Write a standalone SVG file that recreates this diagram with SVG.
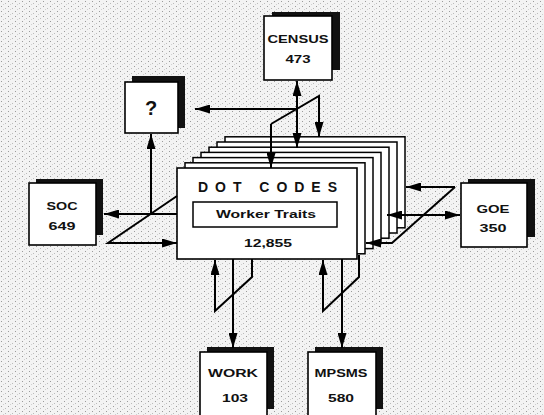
<svg xmlns="http://www.w3.org/2000/svg" width="544" height="415" viewBox="0 0 544 415">
  <defs>
    <pattern id="stip" width="7" height="5" patternUnits="userSpaceOnUse">
      <rect width="7" height="5" fill="#f3f3f3"/>
      <rect x="1" y="1" width="1" height="1" fill="#9a9a9a"/>
      <rect x="5" y="3" width="1" height="1" fill="#bbbbbb"/>
      <rect x="3" y="4" width="1" height="1" fill="#d0d0d0"/>
    </pattern>
    <marker id="ah" viewBox="0 0 15 9" refX="15" refY="4.5" markerWidth="15" markerHeight="9" markerUnits="userSpaceOnUse" orient="auto-start-reverse">
      <path d="M0,0 L15,4.5 L0,9 Z" fill="#000"/>
    </marker>
    <style>
      .shadow { fill: #111; }
      .front { fill: #fff; stroke: #000; stroke-width: 1.6; }
      .page { fill: #fff; stroke: #000; stroke-width: 1.5; }
      .lbl { font-family: "Liberation Sans", Arial, sans-serif; font-weight: bold; font-size: 11px; fill: #111; text-anchor: middle; }
      .conn { fill: none; stroke: #000; stroke-width: 2; stroke-linejoin: miter; }
    </style>
  </defs>

  <rect width="544" height="415" fill="url(#stip)"/>

  <g id="census">
    <rect class="shadow" x="272" y="12" width="68" height="58"/>
    <rect class="front" x="264" y="16" width="68" height="64"/>
    <text class="lbl" x="298" y="43" textLength="61" lengthAdjust="spacingAndGlyphs">CENSUS</text>
    <text class="lbl" x="298" y="63" textLength="25" lengthAdjust="spacingAndGlyphs">473</text>
  </g>

  <g id="unknown">
    <rect class="shadow" x="132" y="76" width="53" height="52"/>
    <rect class="front" x="125" y="82" width="53" height="51"/>
    <text class="lbl" x="151" y="115" style="font-size:20px">?</text>
  </g>

  <g id="soc">
    <rect class="shadow" x="36" y="179" width="67" height="56"/>
    <rect class="front" x="29" y="183" width="67" height="62"/>
    <text class="lbl" x="62" y="210" textLength="31" lengthAdjust="spacingAndGlyphs">SOC</text>
    <text class="lbl" x="62" y="230" textLength="27" lengthAdjust="spacingAndGlyphs">649</text>
  </g>

  <g id="goe">
    <rect class="shadow" x="468" y="179" width="67" height="58"/>
    <rect class="front" x="461" y="183" width="66" height="64"/>
    <text class="lbl" x="493" y="213" textLength="33" lengthAdjust="spacingAndGlyphs">GOE</text>
    <text class="lbl" x="493" y="232" textLength="27" lengthAdjust="spacingAndGlyphs">350</text>
  </g>

  <g id="work">
    <rect class="shadow" x="207" y="347" width="67" height="62"/>
    <rect class="front" x="200" y="352" width="67" height="70"/>
    <text class="lbl" x="233" y="377" textLength="50" lengthAdjust="spacingAndGlyphs">WORK</text>
    <text class="lbl" x="235" y="402" textLength="26" lengthAdjust="spacingAndGlyphs">103</text>
  </g>

  <g id="mpsms">
    <rect class="shadow" x="315" y="347" width="68" height="62"/>
    <rect class="front" x="308" y="352" width="68" height="70"/>
    <text class="lbl" x="341" y="377" textLength="53" lengthAdjust="spacingAndGlyphs">MPSMS</text>
    <text class="lbl" x="341" y="402" textLength="26" lengthAdjust="spacingAndGlyphs">580</text>
  </g>

  <g id="dot-codes">
    <rect class="page" x="225" y="136.8" width="180" height="91"/>
    <rect class="page" x="217" y="142" width="180" height="91"/>
    <rect class="page" x="209" y="147.2" width="180" height="91"/>
    <rect class="page" x="201" y="152.4" width="180" height="91"/>
    <rect class="page" x="193" y="157.6" width="180" height="91"/>
    <rect class="page" x="185" y="162.8" width="180" height="91"/>
    <rect class="front" x="177" y="168" width="180" height="91"/>
    <text class="lbl" x="267.5" y="192" style="font-size:14px" textLength="139" lengthAdjust="spacing">DOT CODES</text>
    <rect x="193" y="202" width="144" height="25" fill="#fff" stroke="#000" stroke-width="1.5"/>
    <text class="lbl" x="266" y="218" textLength="100" lengthAdjust="spacingAndGlyphs">Worker Traits</text>
    <text class="lbl" x="268" y="247" style="font-size:11.5px" textLength="48" lengthAdjust="spacingAndGlyphs">12,855</text>
  </g>

  <g id="connectors">
    <path class="conn" d="M297,81 L297,148" marker-start="url(#ah)" marker-end="url(#ah)"/>
    <path class="conn" d="M271,124 L271,168" marker-end="url(#ah)"/>
    <path class="conn" d="M271,124 L319,96 L319,137" marker-end="url(#ah)"/>
    <path class="conn" d="M297,109 L195,109" marker-end="url(#ah)"/>
    <path class="conn" d="M177,214 L104,214" marker-end="url(#ah)"/>
    <path class="conn" d="M151,214 L151,134" marker-end="url(#ah)"/>
    <path class="conn" d="M177,196 L108,243 L177,243" marker-end="url(#ah)"/>
    <path class="conn" d="M387,215 L460,215" marker-start="url(#ah)" marker-end="url(#ah)"/>
    <path class="conn" d="M455,187 L406,187" marker-end="url(#ah)"/>
    <path class="conn" d="M455,187 L392,243 L366,243" marker-end="url(#ah)"/>
    <path class="conn" d="M252,259 L252,277 L215,311 L215,260" marker-end="url(#ah)"/>
    <path class="conn" d="M233,259 L233,348" marker-end="url(#ah)"/>
    <path class="conn" d="M359,255 L359,277 L323,311 L323,260" marker-end="url(#ah)"/>
    <path class="conn" d="M342,259 L342,348" marker-end="url(#ah)"/>
  </g>
</svg>
